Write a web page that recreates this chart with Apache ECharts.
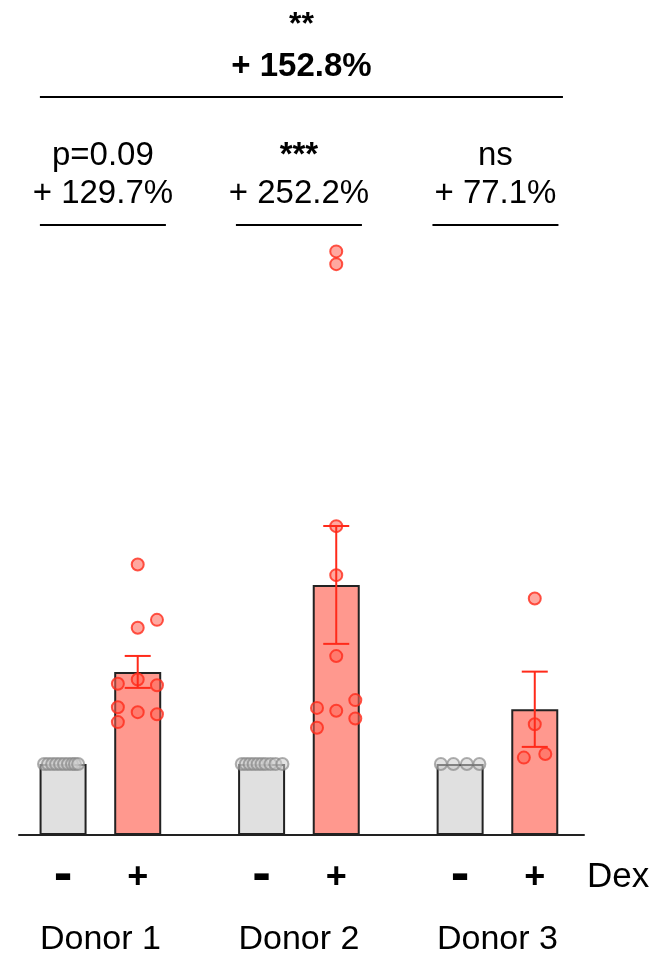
<!DOCTYPE html>
<html>
<head>
<meta charset="utf-8">
<script src="https://cdn.jsdelivr.net/npm/echarts@6/dist/echarts.min.js"></script>
<style>
  html, body { margin: 0; padding: 0; background: #fff; }
  #chart { width: 662px; height: 962px; }
</style>
</head>
<body>
<div id="chart"></div>
<script>
// ---- data ----
const donors = ['Donor 1', 'Donor 2', 'Donor 3'];
const treatmentLabels = ['-', '+'];
const treatmentName = 'Dex';
const controlMean = [1, 1, 1];
const dexChangePct = [129.7, 252.2, 77.1];
const dexSem = [0.225, 0.83, 0.53];
const donorStats = ['p=0.09', '***', 'ns'];
const pooledStat = '**';
const pooledChangePct = 152.8;

const controlPoints = [
  [1, 1, 1, 1, 1, 1, 1, 1, 1, 1],
  [1, 1, 1, 1, 1, 1, 1, 1, 1, 1],
  [1, 1, 1, 1]
];
const dexPoints = [
  [3.81, 3.03, 2.92, 2.19, 2.13, 2.11, 1.80, 1.73, 1.70, 1.59],
  [8.22, 8.04, 4.35, 3.66, 2.52, 1.90, 1.79, 1.75, 1.64, 1.51],
  [3.33, 1.56, 1.09, 1.14]
];
// horizontal spread of the dots around their bar, in donor-axis units
const controlJitter = [
  [-0.096, -0.076, -0.055, -0.035, -0.015, 0.005, 0.025, 0.045, 0.06, 0.076],
  [-0.1, -0.08, -0.06, -0.04, -0.02, 0.0, 0.02, 0.045, 0.07, 0.105],
  [-0.097, -0.034, 0.034, 0.097]
];
const dexJitter = [
  [0, 0.097, 0, 0, -0.1, 0.097, -0.1, 0, 0.097, -0.1],
  [0, 0, 0, 0, 0, 0.096, -0.097, 0, 0.096, -0.097],
  [0, 0, -0.055, 0.053]
];

// ---- layout / style ----
const BAR_OFFSET = 0.188;      // bar centre distance from donor centre (axis units)
const FONT = '"Liberation Sans", Arial, Helvetica, sans-serif';
const RED = '#ff2a1a';
const GREY_FILL = '#e0e0e0';
const DEX_FILL = '#ff988e';
const OUTLINE = '#222';

const dexMean = dexChangePct.map((p, i) => controlMean[i] * (1 + p / 100));

// treatment sign under each bar; the minus is set larger so it reads as a bold dash
const signStyle = [
  { fontSize: 56, distance: 13 },
  { fontSize: 36, distance: 25 }
];

const barData = [];
donors.forEach((d, i) => {
  barData.push({
    value: [i - BAR_OFFSET, controlMean[i]],
    itemStyle: { color: GREY_FILL },
    label: Object.assign({ formatter: treatmentLabels[0] }, signStyle[0])
  });
  barData.push({
    value: [i + BAR_OFFSET, dexMean[i]],
    itemStyle: { color: DEX_FILL },
    label: Object.assign({ formatter: treatmentLabels[1] }, signStyle[1])
  });
});

const controlDots = [];
controlPoints.forEach((vals, i) => vals.forEach((v, k) =>
  controlDots.push([i - BAR_OFFSET + controlJitter[i][k], v])));
const dexDots = [];
dexPoints.forEach((vals, i) => vals.forEach((v, k) =>
  dexDots.push([i + BAR_OFFSET + dexJitter[i][k], v])));
const errData = donors.map((d, i) => [i + BAR_OFFSET, dexMean[i], dexSem[i]]);

const chart = echarts.init(document.getElementById('chart'), null, { renderer: 'canvas' });

chart.setOption({
  animation: false,
  backgroundColor: '#fff',
  textStyle: { fontFamily: FONT },
  grid: { left: 19, right: 78, top: 196, bottom: 127 },
  xAxis: {
    type: 'value',
    min: -0.41,
    max: 2.436,
    axisLine: { show: true, lineStyle: { color: OUTLINE, width: 2 } },
    axisTick: { show: false },
    splitLine: { show: false },
    axisLabel: {
      customValues: [0, 1, 2],
      formatter: v => donors[Math.round(v)] || '',
      fontSize: 34,
      color: '#000',
      fontFamily: FONT,
      margin: 88
    }
  },
  yAxis: { type: 'value', min: 0, max: 9, show: false },
  series: [
    {
      type: 'bar',
      data: barData,
      barWidth: 47,
      itemStyle: { borderColor: OUTLINE, borderWidth: 2 },
      label: {
        show: true,
        position: 'bottom',
        fontWeight: 'bold',
        color: '#000',
        fontFamily: FONT
      },
      z: 1
    },
    {
      type: 'scatter',
      data: controlDots,
      symbolSize: 12,
      itemStyle: { color: 'rgba(205,205,205,0.7)', borderColor: 'rgba(130,130,130,0.8)', borderWidth: 2 },
      z: 2
    },
    {
      type: 'scatter',
      data: dexDots,
      symbolSize: 12,
      itemStyle: { color: 'rgba(255,100,85,0.7)', borderColor: RED, borderWidth: 2 },
      z: 2
    },
    {
      type: 'custom',
      data: errData,
      z: 3,
      renderItem: (params, api) => {
        const x = api.value(0), m = api.value(1), s = api.value(2);
        const hi = api.coord([x, m + s]);
        const lo = api.coord([x, m - s]);
        const hw = 13;
        const st = { stroke: RED, lineWidth: 2 };
        return {
          type: 'group',
          children: [
            { type: 'line', shape: { x1: hi[0], y1: hi[1], x2: lo[0], y2: lo[1] }, style: st },
            { type: 'line', shape: { x1: hi[0] - hw, y1: hi[1], x2: hi[0] + hw, y2: hi[1] }, style: st },
            { type: 'line', shape: { x1: lo[0] - hw, y1: lo[1], x2: lo[0] + hw, y2: lo[1] }, style: st }
          ]
        };
      }
    }
  ]
});

// ---- significance brackets and labels above the bars ----
function px(v) { return chart.convertToPixel({ xAxisIndex: 0 }, v); }
const graphics = [];
const txt = (x, y, text, size, bold, align) => ({
  type: 'text', x, y, silent: true,
  style: {
    text, fill: '#000', fontSize: size, fontWeight: bold ? 'bold' : 'normal',
    fontFamily: FONT, align: align || 'center', verticalAlign: 'middle'
  }
});
const hline = (x1, x2, y) => ({
  type: 'line', silent: true,
  shape: { x1, y1: y, x2, y2: y },
  style: { stroke: '#000', lineWidth: 2 }
});

const HALF = 63;
donors.forEach((d, i) => {
  const c = px(i) + (i === 0 ? 2.5 : i === 2 ? -2 : 0);
  graphics.push(hline(c - HALF, c + HALF, 225));
  graphics.push(txt(c, 155.6, donorStats[i], 33, donorStats[i].indexOf('*') >= 0, 'center'));
  graphics.push(txt(c, 193.6, '+ ' + dexChangePct[i].toFixed(1) + '%', 33, false, 'center'));
});
const leftEnd = px(0) - 60.5;
const rightEnd = px(2) + 65.5;
const mid = (leftEnd + rightEnd) / 2;
graphics.push(hline(leftEnd, rightEnd, 97));
graphics.push(txt(mid, 25, pooledStat, 32, true, 'center'));
graphics.push(txt(mid, 66.6, '+ ' + pooledChangePct.toFixed(1) + '%', 33, true, 'center'));
graphics.push(txt(587, 877, treatmentName, 35, false, 'left'));

chart.setOption({ graphic: graphics });
</script>
</body>
</html>
